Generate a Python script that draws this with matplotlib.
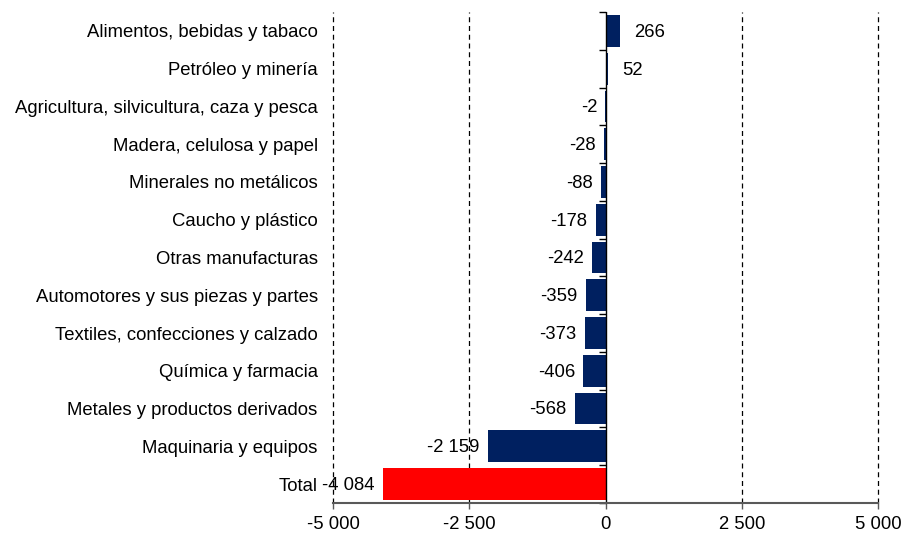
import matplotlib
matplotlib.use('Agg')
from matplotlib import pyplot as plt
from matplotlib.ticker import FuncFormatter

plt.rcParams['font.family'] = ['Liberation Sans', 'DejaVu Sans']

# data (top to bottom as in the chart)
sectores = ['Alimentos, bebidas y tabaco', 'Petróleo y minería',
            'Agricultura, silvicultura, caza y pesca', 'Madera, celulosa y papel',
            'Minerales no metálicos', 'Caucho y plástico', 'Otras manufacturas',
            'Automotores y sus piezas y partes', 'Textiles, confecciones y calzado',
            'Química y farmacia', 'Metales y productos derivados',
            'Maquinaria y equipos', 'Total']
valores = [266, 52, -2, -28, -88, -178, -242, -359, -373, -406, -568, -2159, -4084]
xticks = [-5000, -2500, 0, 2500, 5000]

def fmt(v):
    return f'{v:,.0f}'.replace(',', ' ')

fs = 13.3
fig = plt.figure(figsize=(9.03, 5.35), dpi=100)
ax = fig.add_axes([0.3688, 0.0598, 0.9723 - 0.3688, 0.9776 - 0.0598])

pos = list(range(len(sectores)))
colores = ['#002060'] * (len(sectores) - 1) + ['#ff0000']
ax.barh(pos, valores, height=0.84, color=colores, zorder=3)
ax.set_ylim(len(sectores) - 0.5, -0.5)
ax.set_xlim(-5000, 5000)

for p, v in zip(pos, valores):
    if v >= 0:
        ax.annotate(fmt(v), (v, p), xytext=(10, -1), textcoords='offset points',
                    ha='left', va='center', fontsize=fs)
    else:
        ax.annotate(fmt(v), (v, p), xytext=(-6, -1), textcoords='offset points',
                    ha='right', va='center', fontsize=fs)

for x in [-5000, -2500, 2500, 5000]:
    ax.axvline(x, color='black', linestyle=(0, (4, 3)), linewidth=0.9, zorder=1,
               clip_on=False)
ax.axvline(0, color='black', linewidth=1, zorder=4)

# boundary ticks on the zero axis, pointing left
bordes = [p - 0.5 for p in pos] + [len(sectores) - 0.5]
ax.plot([0] * len(bordes), bordes, linestyle='none', marker=0, markersize=5,
        markeredgewidth=1, color='black', clip_on=False, zorder=4)

ax.set_xticks(xticks)
ax.xaxis.set_major_formatter(FuncFormatter(lambda v, _: fmt(v)))
ax.tick_params(axis='x', length=4, color='#595959', width=1, labelsize=fs, pad=5)
ax.set_yticks(pos)
ax.set_yticklabels(sectores)
ax.tick_params(axis='y', length=0, labelsize=fs, pad=11)

for s in ['top', 'right', 'left']:
    ax.spines[s].set_visible(False)
ax.spines['bottom'].set_color('#595959')
ax.spines['bottom'].set_linewidth(1.5)
ax.spines['bottom'].set_zorder(5)

fig.savefig('out.png', dpi=100)
